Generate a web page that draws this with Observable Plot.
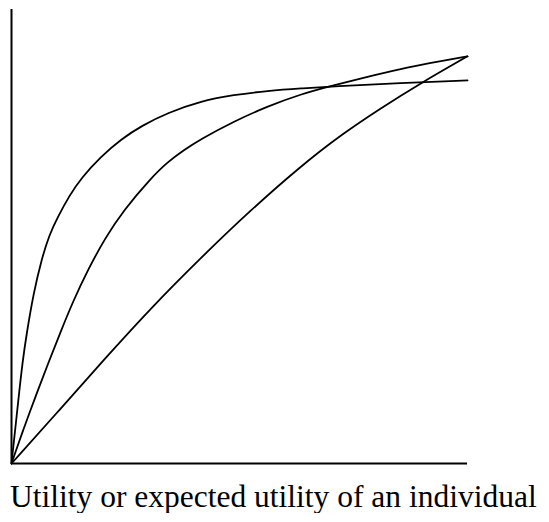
<!DOCTYPE html>
<html>
<head>
<meta charset="utf-8">
<script src="https://cdn.jsdelivr.net/npm/d3@7"></script>
<script src="https://cdn.jsdelivr.net/npm/@observablehq/plot@0.6"></script>
<style>
  html, body { margin: 0; padding: 0; background: #fff; }
  #chart svg { display: block; }
  #caption {
    font-family: "Liberation Serif", "Times New Roman", serif;
    font-size: 31.5px;
    line-height: 32px;
    color: #000;
    margin: 9px 0 0 10px;
    white-space: nowrap;
  }
</style>
</head>
<body>
<div id="chart"></div>
<div id="caption">Utility or expected utility of an individual</div>
<script>
// Three utility curves, each starting at the origin (x and y on a 0–100 scale).
// Curve A: strongly concave, saturates early.
const xA = [0, 0.88, 1.75, 2.41, 3.29, 4.82, 6.58, 8.33, 10.09, 12.72, 15.35, 19.52, 24.12, 28.51, 34.21, 41.67, 48.68, 56.14, 63.6, 70.61, 85.31, 100];
const yA = [0, 9.09, 18.18, 24.82, 31.7, 41.77, 50.12, 56.27, 60.44, 65.85, 70.17, 75.33, 79.73, 82.92, 86.12, 89.04, 90.54, 91.52, 92.14, 92.63, 93.44, 94.1];
// Curve B: moderately concave.
const xB = [0, 2.6, 5.3, 8.1, 10.8, 13.4, 16.9, 20.6, 24.6, 30.5, 34.2, 37.7, 41.4, 48.7, 56.1, 63.4, 70.6, 79.4, 86.8, 94.1, 100];
const yB = [0, 8.4, 16.5, 24.8, 32.4, 39.6, 47.9, 55.5, 62.2, 70.0, 74.0, 76.9, 79.6, 84.0, 87.7, 90.7, 92.9, 95.3, 97.3, 98.8, 100];
// Curve C: nearly linear, slightly concave.
const xC = [0, 10.8, 20.6, 30.5, 41.4, 52.4, 63.4, 72.1, 80.9, 89.7, 100];
const yC = [0, 13.5, 25.9, 38.1, 50.4, 62.2, 73.0, 80.6, 87.2, 93.4, 100];

// Axis extents
const xAxisEnd = 100;
const yAxisTop = 111.5;

const rows = [
  ...xA.map((x, i) => ({series: "A", x, y: yA[i]})),
  ...xB.map((x, i) => ({series: "B", x, y: yB[i]})),
  ...xC.map((x, i) => ({series: "C", x, y: yC[i]}))
];

const chart = Plot.plot({
  width: 549,
  height: 472,
  marginLeft: 11,
  marginRight: 82,
  marginTop: 9,
  marginBottom: 9,
  x: {domain: [0, xAxisEnd], axis: null},
  y: {domain: [0, yAxisTop], axis: null},
  marks: [
    Plot.ruleX([0], {y1: 0, y2: yAxisTop, stroke: "#000", strokeWidth: 2}),
    Plot.ruleY([0], {x1: 0, x2: xAxisEnd, stroke: "#000", strokeWidth: 2}),
    Plot.line(rows, {x: "x", y: "y", z: "series", stroke: "#000", strokeWidth: 1.8, curve: "basis"})
  ]
});
document.getElementById("chart").appendChild(chart);
</script>
</body>
</html>
